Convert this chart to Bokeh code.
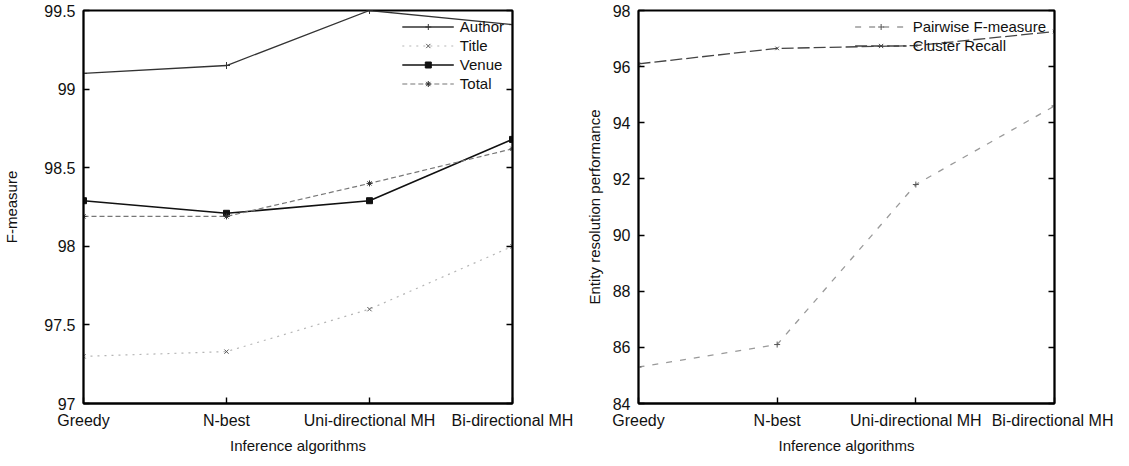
from bokeh.plotting import figure
from bokeh.layouts import row
from bokeh.models import Range1d, FixedTicker, LinearAxis, Legend
from bokeh.embed import file_html
from bokeh.resources import INLINE

categories = ["Greedy", "N-best", "Uni-directional MH", "Bi-directional MH"]

# Left panel: F-measure per field
author = [99.10, 99.15, 99.50, 99.41]
title = [97.30, 97.33, 97.60, 98.00]
venue = [98.29, 98.21, 98.29, 98.68]
total = [98.19, 98.19, 98.40, 98.62]
left_ticks = [97.0, 97.5, 98.0, 98.5, 99.0, 99.5]
left_tick_labels = ["97", "97.5", "98", "98.5", "99", "99.5"]

# Right panel: entity resolution performance
pairwise_f = [85.3, 86.1, 91.8, 94.6]
cluster_recall = [96.1, 96.65, 96.75, 97.25]
right_ticks = [84, 86, 88, 90, 92, 94, 96, 98]
right_tick_labels = ["84", "86", "88", "90", "92", "94", "96", "98"]

FONT = "Liberation Sans"
xs = list(range(len(categories)))


def make_fig(width, border_left, border_right, ylo, yhi, yticks, ylabels, ylabel, ystandoff):
    p = figure(width=width, height=456, output_backend="svg", toolbar_location=None,
               x_range=Range1d(0, len(categories) - 1), y_range=Range1d(ylo, yhi),
               min_border_left=border_left, min_border_right=border_right,
               min_border_top=10, min_border_bottom=48)
    p.xgrid.visible = False
    p.ygrid.visible = False
    p.outline_line_color = "black"
    p.outline_line_width = 1.8
    p.background_fill_color = "white"
    p.border_fill_color = "white"

    xa = p.xaxis[0]
    xa.ticker = FixedTicker(ticks=xs)
    xa.major_label_overrides = {i: c for i, c in enumerate(categories)}
    xa.axis_label = "Inference algorithms"
    ya = p.yaxis[0]
    ya.ticker = FixedTicker(ticks=yticks)
    ya.major_label_overrides = {t: l for t, l in zip(yticks, ylabels)}
    ya.axis_label = ylabel
    ya.axis_label_standoff = ystandoff
    for ax in (xa, ya):
        ax.major_tick_in = 6
        ax.major_tick_out = 0
        ax.minor_tick_line_color = None
        ax.axis_line_width = 1.8
        ax.axis_line_color = "black"
        ax.major_tick_line_color = "black"
        ax.major_tick_line_width = 1.4
        ax.major_label_text_font = FONT
        ax.major_label_text_font_size = "16px"
        ax.major_label_text_color = "#111111"
        ax.axis_label_text_font = FONT
        ax.axis_label_text_font_size = "15px"
        ax.axis_label_text_font_style = "normal"
        ax.axis_label_text_color = "#111111"
    xa.major_label_standoff = 8
    xa.axis_label_standoff = 5
    ya.major_label_standoff = 8

    # mirrored ticks on the right (no labels)
    ra = LinearAxis(ticker=FixedTicker(ticks=yticks),
                    major_label_overrides={t: "" for t in yticks},
                    major_tick_in=6, major_tick_out=0, minor_tick_line_color=None,
                    major_tick_line_width=1.4,
                    axis_line_color="black", axis_line_width=1.8, major_label_standoff=0)
    p.add_layout(ra, "right")
    return p


left = make_fig(582, 80, 70, 97.0, 99.5, left_ticks, left_tick_labels, "F-measure", 21)

r_author = [
    left.line(xs, author, line_color="#333333", line_width=1.3),
    left.scatter(xs, author, marker="cross", size=7, line_color="#333333"),
]
r_title = [
    left.line(xs, title, line_color="#b5b5b5", line_width=1.2, line_dash="2 5"),
    left.scatter(xs, title, marker="x", size=6, line_color="#555555"),
]
r_venue = [
    left.line(xs, venue, line_color="#111111", line_width=1.6),
    left.scatter(xs, venue, marker="square", size=6, fill_color="#111111", line_color="#111111"),
]
r_total = [
    left.line(xs, total, line_color="#777777", line_width=1.2, line_dash="5 3"),
    left.scatter(xs, total, marker="asterisk", size=6, line_color="#333333"),
]
leg_l = Legend(items=[("Author", r_author), ("Title", r_title), ("Venue", r_venue), ("Total", r_total)],
               location="top_right", border_line_color=None, background_fill_alpha=0,
               label_text_font=FONT, label_text_font_size="15px", label_text_color="#111111",
               label_height=15, glyph_height=15, glyph_width=52, spacing=2, padding=2,
               margin=8, label_standoff=6)
left.add_layout(leg_l)

right = make_fig(531, 50, 59, 84, 98, right_ticks, right_tick_labels, "Entity resolution performance", 7)

r_pf = [
    right.line(xs, pairwise_f, line_color="#9a9a9a", line_width=1.3, line_dash="6 8"),
    right.scatter(xs, pairwise_f, marker="cross", size=6, line_color="#555555"),
]
r_cr = [
    right.line(xs, cluster_recall, line_color="#444444", line_width=1.3, line_dash="12 4"),
    right.scatter(xs, cluster_recall, marker="x", size=5, line_color="#444444"),
]
leg_r = Legend(items=[("Pairwise F-measure", r_pf), ("Cluster Recall", r_cr)],
               location="top_right", border_line_color=None, background_fill_alpha=0,
               label_text_font=FONT, label_text_font_size="15px", label_text_color="#111111",
               label_height=15, glyph_height=15, glyph_width=52, spacing=2, padding=2,
               margin=8, label_standoff=6)
right.add_layout(leg_r)

layout = row(left, right)
open("out.html", "w").write(file_html(layout, INLINE))
